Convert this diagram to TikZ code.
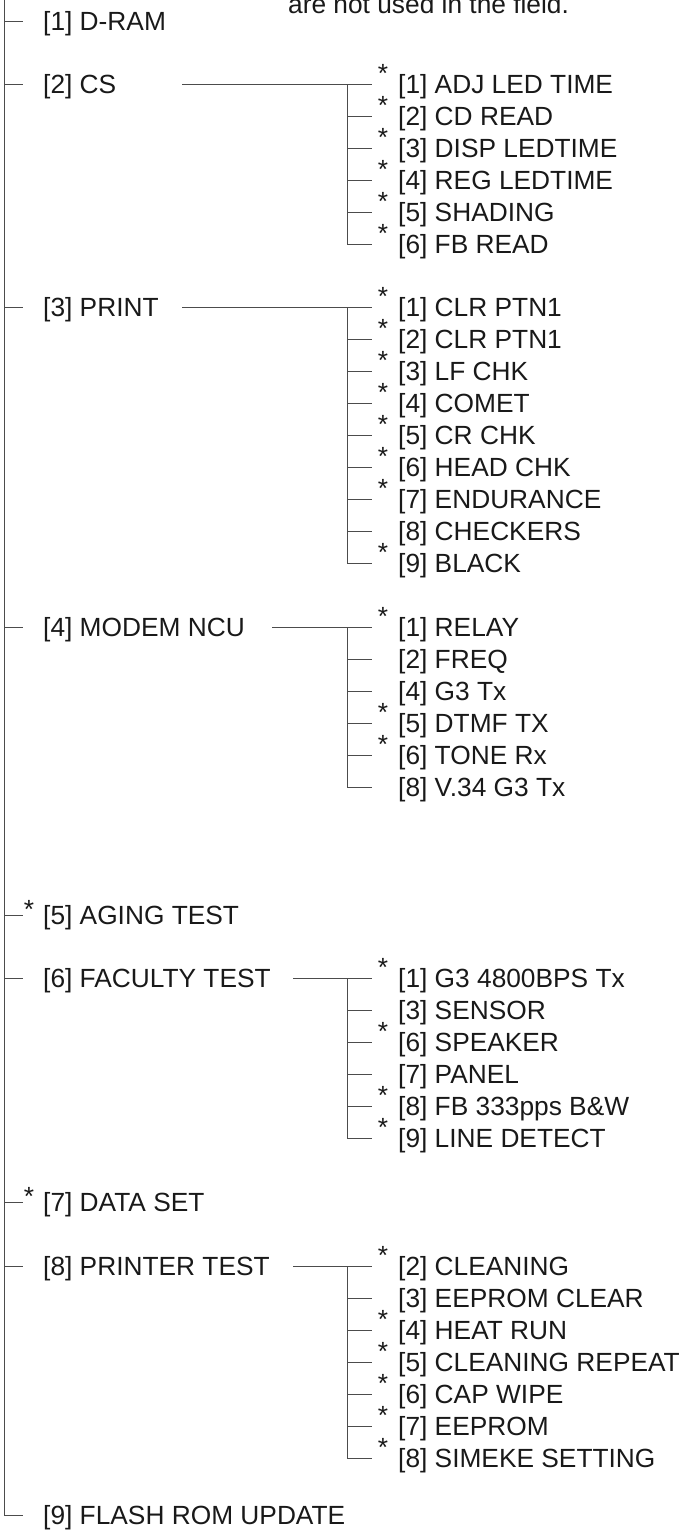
\documentclass[tikz,border=0pt]{standalone}
\usepackage{fontspec}
\setmainfont{Liberation Sans}
\usetikzlibrary{calc}
\newcommand{\menufont}{\fontsize{26.3}{31}\selectfont}
\tikzset{
  wire/.style={line width=0.9pt, draw=black!70},
  item/.style={anchor=west, inner sep=0pt, text height=24.4pt, text depth=5.6pt,
               font=\menufont, text=black!90},
  star/.style={anchor=base, inner sep=0pt, font=\menufont, text=black!90},
  note/.style={anchor=base west, inner sep=0pt, font=\menufont, text=black!90}
}

\begin{document}
\begin{tikzpicture}[x=1pt,y=-1pt]
\useasboundingbox (0,0) rectangle (686,1537);
\clip (0,0) rectangle (686,1537);

\node[note] (note) at (288,13.5) {are not used in the field.};

% main menu
\coordinate (top) at (4,-4);
\node[item] (dram)    at (43,21)   {[1] D-RAM};
\node[item] (cs)      at (43,84)   {[2] CS};
\node[item] (print)   at (43,307)  {[3] PRINT};
\node[item] (modem)   at (43,627)  {[4] MODEM NCU};
\node[item] (aging)   at (43,915)  {[5] AGING TEST};
\node[item] (faculty) at (43,978)  {[6] FACULTY TEST};
\node[item] (dataset) at (43,1202) {[7] DATA SET};
\node[item] (printer) at (43,1266) {[8] PRINTER TEST};
\node[item] (flash)   at (43,1515) {[9] FLASH ROM UPDATE};
\node[star] (agings)   at (29,918)  {*};
\node[star] (datasets) at (29,1205) {*};

\draw[wire] (top) |- ([xshift=-20pt]flash.west);
\draw[wire] (top |- dram.west) -- ([xshift=-20pt]dram.west)
            (top |- cs.west) -- ([xshift=-20pt]cs.west)
            (top |- print.west) -- ([xshift=-20pt]print.west)
            (top |- modem.west) -- ([xshift=-20pt]modem.west)
            (top |- aging.west) -- ([xshift=-20pt]aging.west)
            (top |- faculty.west) -- ([xshift=-20pt]faculty.west)
            (top |- dataset.west) -- ([xshift=-20pt]dataset.west)
            (top |- printer.west) -- ([xshift=-20pt]printer.west);

% [2] CS
\node[item] (cs1) at (398,84)  {[1] ADJ LED TIME};
\node[item] (cs2) at (398,116) {[2] CD READ};
\node[item] (cs3) at (398,148) {[3] DISP LEDTIME};
\node[item] (cs4) at (398,180) {[4] REG LEDTIME};
\node[item] (cs5) at (398,212) {[5] SHADING};
\node[item] (cs6) at (398,244) {[6] FB READ};
\node[star] (cs1s) at (383,82)  {*};
\node[star] (cs2s) at (383,114) {*};
\node[star] (cs3s) at (383,146) {*};
\node[star] (cs4s) at (383,178) {*};
\node[star] (cs5s) at (383,210) {*};
\node[star] (cs6s) at (383,242) {*};
\coordinate (cs-out) at (182,84);
\draw[wire] (cs-out) -- ([xshift=-26pt]cs1.west);
\draw[wire] ([xshift=-51pt]cs1.west) |- ([xshift=-26pt]cs6.west);
\draw[wire] ([xshift=-51pt]cs2.west) -- ([xshift=-26pt]cs2.west)
            ([xshift=-51pt]cs3.west) -- ([xshift=-26pt]cs3.west)
            ([xshift=-51pt]cs4.west) -- ([xshift=-26pt]cs4.west)
            ([xshift=-51pt]cs5.west) -- ([xshift=-26pt]cs5.west);

% [3] PRINT
\node[item] (pr1) at (398,307) {[1] CLR PTN1};
\node[item] (pr2) at (398,339) {[2] CLR PTN1};
\node[item] (pr3) at (398,371) {[3] LF CHK};
\node[item] (pr4) at (398,403) {[4] COMET};
\node[item] (pr5) at (398,435) {[5] CR CHK};
\node[item] (pr6) at (398,467) {[6] HEAD CHK};
\node[item] (pr7) at (398,499) {[7] ENDURANCE};
\node[item] (pr8) at (398,531) {[8] CHECKERS};
\node[item] (pr9) at (398,563) {[9] BLACK};
\node[star] (pr1s) at (383,305) {*};
\node[star] (pr2s) at (383,337) {*};
\node[star] (pr3s) at (383,369) {*};
\node[star] (pr4s) at (383,401) {*};
\node[star] (pr5s) at (383,433) {*};
\node[star] (pr6s) at (383,465) {*};
\node[star] (pr7s) at (383,497) {*};
\node[star] (pr9s) at (383,561) {*};
\coordinate (print-out) at (182,307);
\draw[wire] (print-out) -- ([xshift=-26pt]pr1.west);
\draw[wire] ([xshift=-51pt]pr1.west) |- ([xshift=-26pt]pr9.west);
\draw[wire] ([xshift=-51pt]pr2.west) -- ([xshift=-26pt]pr2.west)
            ([xshift=-51pt]pr3.west) -- ([xshift=-26pt]pr3.west)
            ([xshift=-51pt]pr4.west) -- ([xshift=-26pt]pr4.west)
            ([xshift=-51pt]pr5.west) -- ([xshift=-26pt]pr5.west)
            ([xshift=-51pt]pr6.west) -- ([xshift=-26pt]pr6.west)
            ([xshift=-51pt]pr7.west) -- ([xshift=-26pt]pr7.west)
            ([xshift=-51pt]pr8.west) -- ([xshift=-26pt]pr8.west);

% [4] MODEM NCU
\node[item] (mo1) at (398,627) {[1] RELAY};
\node[item] (mo2) at (398,659) {[2] FREQ};
\node[item] (mo3) at (398,691) {[4] G3 Tx};
\node[item] (mo4) at (398,723) {[5] DTMF TX};
\node[item] (mo5) at (398,755) {[6] TONE Rx};
\node[item] (mo6) at (398,787) {[8] V.34 G3 Tx};
\node[star] (mo1s) at (383,625) {*};
\node[star] (mo4s) at (383,721) {*};
\node[star] (mo5s) at (383,753) {*};
\coordinate (modem-out) at (272,627);
\draw[wire] (modem-out) -- ([xshift=-26pt]mo1.west);
\draw[wire] ([xshift=-51pt]mo1.west) |- ([xshift=-26pt]mo6.west);
\draw[wire] ([xshift=-51pt]mo2.west) -- ([xshift=-26pt]mo2.west)
            ([xshift=-51pt]mo3.west) -- ([xshift=-26pt]mo3.west)
            ([xshift=-51pt]mo4.west) -- ([xshift=-26pt]mo4.west)
            ([xshift=-51pt]mo5.west) -- ([xshift=-26pt]mo5.west);

% [6] FACULTY TEST
\node[item] (fa1) at (398,978)  {[1] G3 4800BPS Tx};
\node[item] (fa2) at (398,1010) {[3] SENSOR};
\node[item] (fa3) at (398,1042) {[6] SPEAKER};
\node[item] (fa4) at (398,1074) {[7] PANEL};
\node[item] (fa5) at (398,1106) {[8] FB 333pps B\&W};
\node[item] (fa6) at (398,1138) {[9] LINE DETECT};
\node[star] (fa1s) at (383,976)  {*};
\node[star] (fa3s) at (383,1040) {*};
\node[star] (fa5s) at (383,1104) {*};
\node[star] (fa6s) at (383,1136) {*};
\coordinate (faculty-out) at (293,978);
\draw[wire] (faculty-out) -- ([xshift=-26pt]fa1.west);
\draw[wire] ([xshift=-51pt]fa1.west) |- ([xshift=-26pt]fa6.west);
\draw[wire] ([xshift=-51pt]fa2.west) -- ([xshift=-26pt]fa2.west)
            ([xshift=-51pt]fa3.west) -- ([xshift=-26pt]fa3.west)
            ([xshift=-51pt]fa4.west) -- ([xshift=-26pt]fa4.west)
            ([xshift=-51pt]fa5.west) -- ([xshift=-26pt]fa5.west);

% [8] PRINTER TEST
\node[item] (pt1) at (398,1266) {[2] CLEANING};
\node[item] (pt2) at (398,1298) {[3] EEPROM CLEAR};
\node[item] (pt3) at (398,1330) {[4] HEAT RUN};
\node[item] (pt4) at (398,1362) {[5] CLEANING REPEAT};
\node[item] (pt5) at (398,1394) {[6] CAP WIPE};
\node[item] (pt6) at (398,1426) {[7] EEPROM};
\node[item] (pt7) at (398,1458) {[8] SIMEKE SETTING};
\node[star] (pt1s) at (383,1264) {*};
\node[star] (pt3s) at (383,1328) {*};
\node[star] (pt4s) at (383,1360) {*};
\node[star] (pt5s) at (383,1392) {*};
\node[star] (pt6s) at (383,1424) {*};
\node[star] (pt7s) at (383,1456) {*};
\coordinate (printer-out) at (293,1266);
\draw[wire] (printer-out) -- ([xshift=-26pt]pt1.west);
\draw[wire] ([xshift=-51pt]pt1.west) |- ([xshift=-26pt]pt7.west);
\draw[wire] ([xshift=-51pt]pt2.west) -- ([xshift=-26pt]pt2.west)
            ([xshift=-51pt]pt3.west) -- ([xshift=-26pt]pt3.west)
            ([xshift=-51pt]pt4.west) -- ([xshift=-26pt]pt4.west)
            ([xshift=-51pt]pt5.west) -- ([xshift=-26pt]pt5.west)
            ([xshift=-51pt]pt6.west) -- ([xshift=-26pt]pt6.west);
\end{tikzpicture}
\end{document}
